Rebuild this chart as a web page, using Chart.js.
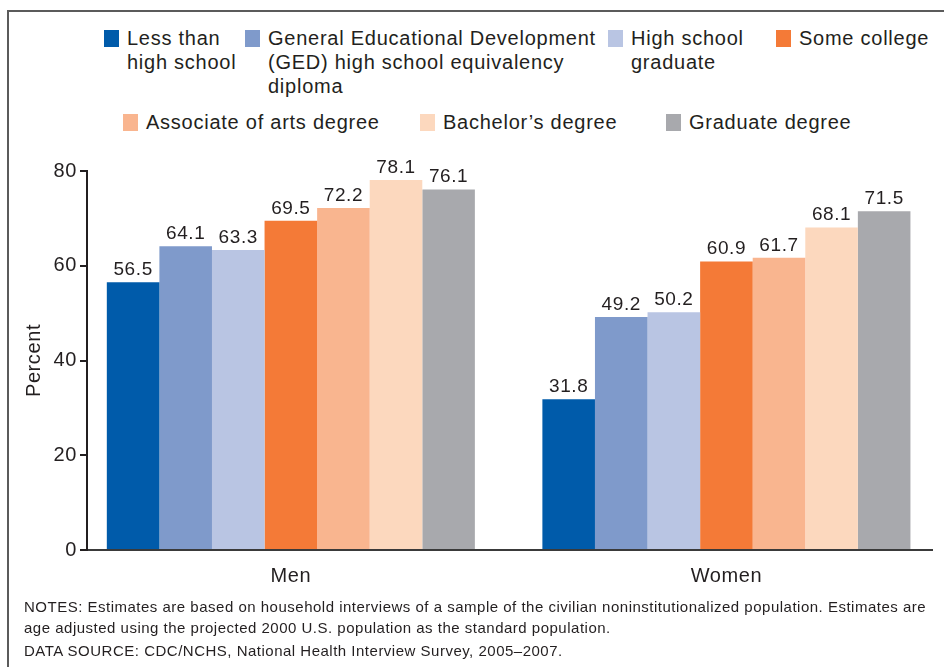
<!DOCTYPE html>
<html>
<head>
<meta charset="utf-8">
<script src="https://cdn.jsdelivr.net/npm/chart.js@4/dist/chart.umd.min.js"></script>
<style>
  body {
    margin: 0;
    background: #fff;
    font-family: "Liberation Sans", Arial, Helvetica, sans-serif;
    color: #231f20;
  }
  #page {
    position: relative;
    width: 944px;
    height: 667px;
    overflow: hidden;
  }
  #frame {
    position: absolute;
    left: 7px;
    top: 10px;
    width: 960px;
    height: 700px;
    border-left: 2px solid #5b5b5b;
    border-top: 2px solid #5b5b5b;
  }
  #chartBox {
    position: absolute;
    left: 0;
    top: 0;
    width: 944px;
    height: 667px;
  }
  .legend-item {
    position: absolute;
    display: flex;
    align-items: flex-start;
    font-size: 20px;
    line-height: 24px;
    letter-spacing: 0.75px;
    white-space: pre-line;
  }
  .legend-item span.box {
    width: 15px;
    height: 17px;
    flex: none;
    margin-top: 4px;
    margin-right: 8px;
  }
  #notes {
    position: absolute;
    left: 24px;
    top: 596px;
    font-size: 15px;
    line-height: 21px;
    letter-spacing: 0.5px;
    white-space: nowrap;
  }
</style>
</head>
<body>
<div id="page">
  <div id="frame"></div>
  <div id="legend"></div>
  <div id="chartBox"><canvas id="chart"></canvas></div>
  <div id="notes">
    NOTES: Estimates are based on household interviews of a sample of the civilian noninstitutionalized population. Estimates are<br>
    age adjusted using the projected 2000 U.S. population as the standard population.<br>
    <div style="margin-top:2px">DATA SOURCE: CDC/NCHS, National Health Interview Survey, 2005&#8211;2007.</div>
  </div>
</div>

<script>
// groups on the x axis
const groups = ["Men", "Women"];

// education levels (legend names, \n = line break as in the original)
const seriesNames = [
    "Less than\nhigh school",
    "General Educational Development\n(GED) high school equivalency\ndiploma",
    "High school\ngraduate",
    "Some college",
    "Associate of arts degree",
    "Bachelor\u2019s degree",
    "Graduate degree"
];

// percent values, [Men, Women]
const lessThanHS = [56.5, 31.8];
const ged = [64.1, 49.2];
const hsGraduate = [63.3, 50.2];
const someCollege = [69.5, 60.9];
const associate = [72.2, 61.7];
const bachelor = [78.1, 68.1];
const graduate = [76.1, 71.5];

const yTicks = [0, 20, 40, 60, 80];

const seriesValues = [lessThanHS, ged, hsGraduate, someCollege, associate, bachelor, graduate];

const colors = ["#005baa", "#7f9acb", "#b9c5e3", "#f47a37", "#f9b58f", "#fcd8be", "#a8a9ad"];

// legend layout (left, top) for each item
const legendPos = [
    [104, 26], [245, 26], [608, 26], [776, 26],
    [123, 110], [420, 110], [666, 110]
];

const textColor = "#231f20";
const fontFamily = '"Liberation Sans", Arial, Helvetica, sans-serif';

// html legend
const legend = document.getElementById("legend");

seriesNames.forEach((name, i) => {

    const item = document.createElement("div");
    item.className = "legend-item";
    item.style.left = legendPos[i][0] + "px";
    item.style.top = legendPos[i][1] + "px";

    const box = document.createElement("span");
    box.className = "box";
    box.style.background = colors[i];

    const text = document.createElement("span");
    text.textContent = name;

    item.appendChild(box);
    item.appendChild(text);
    legend.appendChild(item);
});

// the original type is a bit wider than Liberation Sans
const textSpacing = {
    id: "textSpacing",
    beforeDraw(chart) {
        chart.ctx.letterSpacing = "0.6px";
    }
};

// values written above each bar
const valueLabels = {
    id: "valueLabels",
    afterDatasetsDraw(chart) {
        const ctx = chart.ctx;
        ctx.save();
        ctx.font = "19px " + fontFamily;
        ctx.fillStyle = textColor;
        ctx.textAlign = "center";
        ctx.textBaseline = "alphabetic";
        chart.data.datasets.forEach((ds, i) => {
            chart.getDatasetMeta(i).data.forEach((bar, j) => {
                ctx.fillText(ds.data[j].y.toFixed(1), bar.x, bar.y - 7);
            });
        });
        ctx.restore();
    }
};

const datasets = seriesValues.map((values, i) => ({
    label: seriesNames[i].replace(/\n/g, " "),
    data: values.map((v, j) => ({ x: j, y: v })),
    backgroundColor: colors[i],
    borderWidth: 0,
    barPercentage: 1.0,
    categoryPercentage: 0.845
}));

new Chart(
    document.getElementById("chart"),
    {
        type: "bar",

        data: {
            datasets: datasets
        },

        options: {
            responsive: true,
            maintainAspectRatio: false,
            animation: false,
            layout: {
                padding: { left: 0, top: 171, right: 12, bottom: 0 }
            },
            plugins: {
                legend: { display: false },
                tooltip: { enabled: false }
            },
            scales: {
                x: {
                    type: "linear",
                    min: -0.468,
                    max: 1.472,
                    offset: false,
                    afterBuildTicks: (scale) => {
                        scale.ticks = groups.map((g, i) => ({ value: i }));
                    },
                    afterFit: (scale) => {
                        scale.height = 117;
                    },
                    ticks: {
                        callback: (value) => groups[value],
                        color: textColor,
                        font: { family: fontFamily, size: 20 },
                        padding: 6,
                        maxRotation: 0
                    },
                    grid: { display: false, offset: false },
                    border: { display: true, color: "#3a3a3a", width: 2 }
                },
                y: {
                    min: 0,
                    max: 80,
                    afterBuildTicks: (scale) => {
                        scale.ticks = yTicks.map(v => ({ value: v }));
                    },
                    afterFit: (scale) => {
                        scale.width = 87;
                    },
                    ticks: {
                        color: textColor,
                        font: { family: fontFamily, size: 20 },
                        padding: 3
                    },
                    grid: {
                        drawOnChartArea: false,
                        drawTicks: true,
                        tickLength: 7,
                        lineWidth: 2,
                        color: "#231f20"
                    },
                    border: { display: true, color: "#231f20", width: 2 },
                    title: {
                        display: true,
                        text: "Percent",
                        color: textColor,
                        font: { family: fontFamily, size: 20 },
                        padding: { top: 22, bottom: 0 }
                    }
                }
            }
        },

        plugins: [textSpacing, valueLabels]
    }
);
</script>
</body>
</html>
